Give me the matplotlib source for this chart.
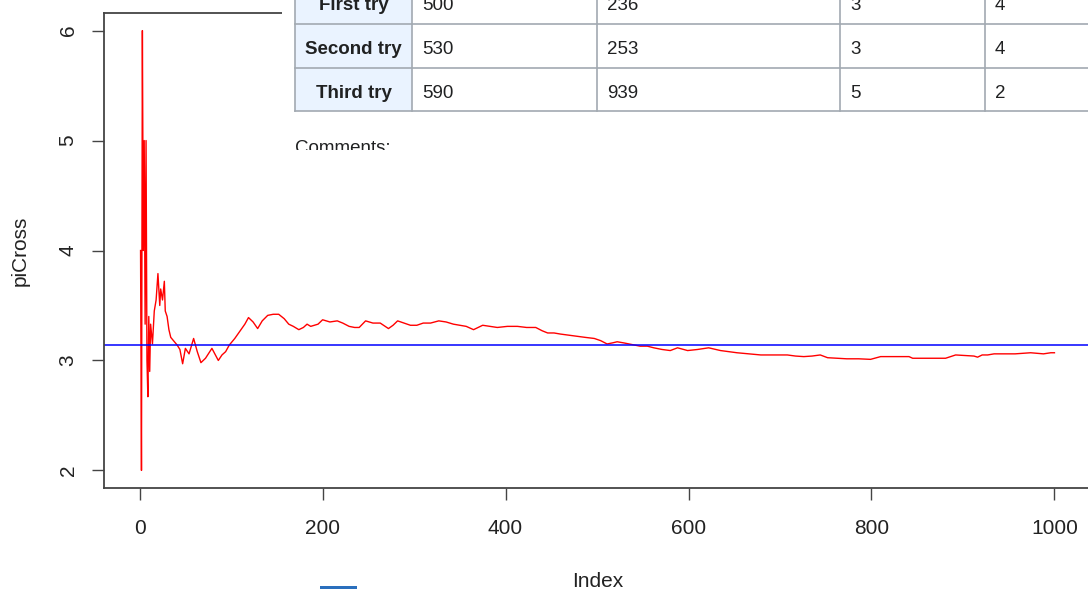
import matplotlib
matplotlib.use("Agg")
import matplotlib.pyplot as plt
from matplotlib.patches import Rectangle

plt.rcParams['font.family'] = ['Liberation Sans', 'DejaVu Sans']

# piCross estimates (index, value)
index = [1, 2, 3, 4, 5, 6, 7, 8, 9, 10,
         11, 12, 14, 16, 18, 20, 22, 23, 25, 27,
         28, 30, 32, 34, 37, 41, 44, 47, 50, 54,
         59, 63, 67, 72, 79, 86, 90, 94, 98, 104,
         110, 115, 119, 124, 129, 134, 140, 146, 152, 158,
         163, 168, 174, 179, 183, 187, 191, 195, 200, 208,
         216, 222, 229, 235, 240, 247, 255, 263, 272, 277,
         282, 289, 296, 303, 310, 318, 327, 335, 343, 350,
         357, 365, 370, 375, 383, 391, 402, 413, 423, 433,
         440, 446, 453, 460, 469, 478, 487, 497, 504, 511,
         517, 522, 529, 535, 541, 547, 555, 562, 571, 580,
         588, 599, 610, 622, 635, 644, 653, 666, 679, 694,
         708, 717, 726, 735, 744, 752, 762, 773, 786, 799,
         810, 825, 841, 845, 860, 870, 881, 892, 902, 912,
         916, 921, 927, 934, 945, 957, 966, 974, 981, 988,
         996, 1000]
picross = [4.0, 2.0, 6.0, 4.0, 5.0, 3.33, 5.0, 3.0, 2.67, 3.4,
           2.9, 3.33, 3.15, 3.45, 3.55, 3.79, 3.5, 3.65, 3.55, 3.72,
           3.45, 3.4, 3.28, 3.21, 3.18, 3.14, 3.1, 2.97, 3.11, 3.06,
           3.2, 3.08, 2.98, 3.02, 3.11, 3.0, 3.05, 3.08, 3.14, 3.2,
           3.27, 3.33, 3.39, 3.35, 3.29, 3.36, 3.41, 3.42, 3.42, 3.38,
           3.33, 3.31, 3.28, 3.3, 3.33, 3.31, 3.32, 3.33, 3.37, 3.35,
           3.36, 3.34, 3.31, 3.3, 3.3, 3.36, 3.34, 3.34, 3.29, 3.32,
           3.36, 3.34, 3.32, 3.32, 3.34, 3.34, 3.36, 3.35, 3.33, 3.32,
           3.31, 3.28, 3.3, 3.32, 3.31, 3.3, 3.31, 3.31, 3.3, 3.3,
           3.27, 3.25, 3.25, 3.24, 3.23, 3.22, 3.21, 3.2, 3.18, 3.15,
           3.16, 3.17, 3.16, 3.15, 3.14, 3.13, 3.13, 3.115, 3.1, 3.09,
           3.115, 3.09, 3.1, 3.115, 3.09, 3.08, 3.07, 3.06, 3.05, 3.05,
           3.05, 3.04, 3.035, 3.04, 3.05, 3.025, 3.02, 3.015, 3.015, 3.01,
           3.035, 3.035, 3.035, 3.02, 3.02, 3.02, 3.02, 3.05, 3.045, 3.04,
           3.03, 3.05, 3.05, 3.06, 3.06, 3.06, 3.065, 3.07, 3.065, 3.06,
           3.07, 3.07]
pi_value = 3.14159

# overlaid table
row_names = ["First try", "Second try", "Third try"]
col2 = ["500", "530", "590"]
col3 = ["236", "253", "939"]
col4 = ["3", "3", "5"]
col5 = ["4", "4", "2"]

W, H = 1088, 589
fig = plt.figure(figsize=(W / 100, H / 100), dpi=100)
fig.patch.set_facecolor("white")


def fx(x):
    return x / W


def fy(y):
    return 1 - y / H


ax = fig.add_axes([fx(104), fy(488), fx(1091) - fx(104), fy(13) - fy(488)])
ax.plot(index, picross, color="#ff0000", lw=1.0)
ax.axhline(pi_value, color="#0000ff", lw=1.1)
ax.set_xlim(-38.96, 1039.96)
ax.set_ylim(1.84, 6.16)
ax.set_xticks([0, 200, 400, 600, 800, 1000])
ax.set_yticks([2, 3, 4, 5, 6])
ax.set_yticklabels(["2", "3", "4", "5", "6"], rotation=90, va="center")
ax.tick_params(direction="out", length=8.5, width=1, color="#444444",
               labelsize=15, labelcolor="#222222")
ax.tick_params(axis="x", pad=14)
ax.tick_params(axis="y", pad=10.5)
for s in ax.spines.values():
    s.set_color("#444444")
    s.set_linewidth(1.3)
ax.set_xlabel("Index", fontsize=15, color="#222222", labelpad=24)
ax.set_ylabel("piCross", fontsize=15, color="#222222", labelpad=21)

# white cover of the overlaid html block
fig.add_artist(Rectangle((fx(282), fy(150)), 1 - fx(282), fy(0) - fy(150),
                         transform=fig.transFigure, facecolor="white",
                         edgecolor="none", zorder=5))

# table
col_x = [295, 412, 597, 840, 985, 1200]
row_y = [-20, 24, 68, 111]
border = "#a2a9b1"
for r in range(3):
    y0, y1 = row_y[r], row_y[r + 1]
    fig.add_artist(Rectangle((fx(col_x[0]), fy(y1)), fx(col_x[1]) - fx(col_x[0]),
                             fy(y0) - fy(y1), transform=fig.transFigure,
                             facecolor="#eaf3ff", edgecolor="none", zorder=6))
    yc = fy((y0 + y1) / 2 + 4)
    fig.text(fx((col_x[0] + col_x[1]) / 2), yc, row_names[r], ha="center",
             va="center", fontsize=13.5, fontweight="bold", color="#202122",
             zorder=8)
    for c, col in enumerate([col2, col3, col4, col5]):
        fig.text(fx(col_x[c + 1] + 10), yc, col[r], ha="left", va="center",
                 fontsize=13.5, color="#202122", zorder=8)
for y in row_y[1:]:
    fig.add_artist(plt.Line2D([fx(col_x[0]), 1.0], [fy(y), fy(y)],
                              transform=fig.transFigure, color=border, lw=1.2,
                              zorder=7))
for x in col_x[:5]:
    fig.add_artist(plt.Line2D([fx(x), fx(x)], [fy(111), 1.0],
                              transform=fig.transFigure, color=border, lw=1.2,
                              zorder=7))

clip = Rectangle((0, fy(150)), 1, fy(0) - fy(150), transform=fig.transFigure)
t = fig.text(fx(295), fy(153), "Comments:", ha="left", va="baseline",
             fontsize=13.5, color="#202122", zorder=8)
t.set_clip_path(clip)

# clipped blue button at bottom
fig.add_artist(Rectangle((fx(320), 0), fx(357) - fx(320), fy(586),
                         transform=fig.transFigure, facecolor="#2a6fbd",
                         edgecolor="none", zorder=8))

fig.savefig("out.png", dpi=100, facecolor="white")
